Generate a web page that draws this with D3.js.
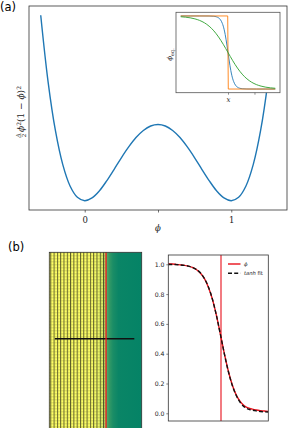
<!DOCTYPE html>
<html>
<head>
<meta charset="utf-8">
<script src="https://cdn.jsdelivr.net/npm/d3@7"></script>
<style>
body { margin: 0; background: #fff; }
svg { display: block; }
</style>
</head>
<body>
<div id="chart"></div>
<script>
// ======================================
// Data
// ======================================

// (a) double well: phi and energy A/2 phi^2 (1-phi)^2 (A = 2)
var wellPhi = [-0.30, -0.25, -0.20, -0.15, -0.10, -0.05, 0.00, 0.05, 0.10, 0.15, 0.20,
  0.25, 0.30, 0.35, 0.40, 0.45, 0.50, 0.55, 0.60, 0.65, 0.70, 0.75, 0.80, 0.85,
  0.90, 0.95, 1.00, 1.05, 1.10, 1.15, 1.20, 1.25, 1.30];
var wellEnergy = [0.1521, 0.0977, 0.0576, 0.0298, 0.0121, 0.0028, 0.0000, 0.0023, 0.0081,
  0.0163, 0.0256, 0.0352, 0.0441, 0.0518, 0.0576, 0.0613, 0.0625, 0.0613, 0.0576,
  0.0518, 0.0441, 0.0352, 0.0256, 0.0163, 0.0081, 0.0023, 0.0000, 0.0028, 0.0121,
  0.0298, 0.0576, 0.0977, 0.1521];
var wellTicks = [0, 0.5, 1];
var wellTickLabels = ["0", "", "1"];

// (a) inset: equilibrium profiles
var insetBlueX = [0, 0.1, 0.2, 0.3, 0.35, 0.4, 0.42, 0.44, 0.46, 0.48, 0.5, 0.52, 0.54,
  0.56, 0.58, 0.6, 0.65, 0.7, 0.8, 0.9, 1.0];
var insetBlue = [1, 1, 1, 0.9993, 0.9957, 0.9744, 0.9483, 0.8986, 0.8107, 0.6742, 0.5,
  0.3258, 0.1893, 0.1014, 0.0517, 0.0256, 0.0043, 0.0007, 0, 0, 0];
var insetOrangeX = [0, 0.497, 0.503, 1];
var insetOrange = [1, 1, 0, 0];
var insetGreenX = [0, 0.05, 0.1, 0.15, 0.2, 0.25, 0.3, 0.35, 0.4, 0.45, 0.5, 0.55, 0.6,
  0.65, 0.7, 0.75, 0.8, 0.85, 0.9, 0.95, 1.0];
var insetGreen = [0.9894, 0.9835, 0.9744, 0.9602, 0.9387, 0.9067, 0.8604, 0.7964, 0.7128,
  0.6117, 0.5, 0.3883, 0.2872, 0.2036, 0.1396, 0.0933, 0.0613, 0.0398, 0.0256,
  0.0165, 0.0106];
var insetTicks = [0.5, 0.78];
var insetTickLabels = ["x", ""];

// (b) profile along the black line, and tanh fit
var profileX = [0, 4, 8, 12, 16, 20, 24, 28, 32, 36, 40, 44, 48, 52, 56, 60, 64, 68, 72,
  76, 80, 84, 88, 92, 96, 100];
var profilePhi = [1.004, 1.002, 0.999, 0.996, 0.993, 0.988, 0.979, 0.965, 0.942, 0.905,
  0.848, 0.768, 0.660, 0.533, 0.402, 0.284, 0.190, 0.122, 0.078, 0.050, 0.036, 0.028,
  0.022, 0.018, 0.015, 0.013];
var profileFit = [0.999, 0.999, 0.998, 0.996, 0.993, 0.988, 0.979, 0.966, 0.943, 0.906,
  0.850, 0.769, 0.661, 0.533, 0.401, 0.282, 0.187, 0.119, 0.072, 0.043, 0.028, 0.021,
  0.016, 0.012, 0.010, 0.009];
var interfaceX = 52.7;
var profileTicks = [0, 0.2, 0.4, 0.6, 0.8, 1.0];
var legendLabels = ["ϕ", "tanh fit"];

// (b) image: phi across the slab (summer colormap)
var imageStopOffset = [0, 0.45, 0.52, 0.58, 0.61, 0.625, 0.65, 0.69, 0.75, 1];
var imageStopPhi = [1, 0.99, 0.95, 0.85, 0.7, 0.3, 0.2, 0.1, 0.04, 0.02];
var imageInterface = 0.614;

// ======================================
// Setup
// ======================================
var svg = d3.select("#chart").append("svg")
  .attr("width", 289)
  .attr("height", 428);
var defs = svg.append("defs");

var serif = "'DejaVu Serif', 'Liberation Serif', serif";
var sans = "'DejaVu Sans', sans-serif";

function pairs(xs, ys) {
  return xs.map((x, i) => [x, ys[i]]);
}

// ======================================
// Panel (a)
// ======================================
var aBox = {left: 29, top: 6, right: 287, bottom: 210};
var xA = d3.scaleLinear().domain([-0.38, 1.38]).range([aBox.left, aBox.right]);
var yA = d3.scaleLinear().domain([-0.0076, 0.1597]).range([aBox.bottom, aBox.top]);

svg.append("text")
  .attr("x", 0).attr("y", 10.5)
  .attr("font-family", sans).attr("font-size", 11.5)
  .text("(a)");

var gA = svg.append("g");

gA.append("path")
  .datum(pairs(wellPhi, wellEnergy))
  .attr("fill", "none")
  .attr("stroke", "#1f77b4")
  .attr("stroke-width", 1.4)
  .attr("d", d3.line().x(d => xA(d[0])).y(d => yA(d[1])).curve(d3.curveCatmullRom));

gA.append("rect")
  .attr("x", aBox.left).attr("y", aBox.top)
  .attr("width", aBox.right - aBox.left).attr("height", aBox.bottom - aBox.top)
  .attr("fill", "none").attr("stroke", "#333").attr("stroke-width", 0.8);

var axA = gA.append("g")
  .attr("transform", `translate(0, ${aBox.bottom})`)
  .call(d3.axisBottom(xA).tickValues(wellTicks)
    .tickFormat((d, i) => wellTickLabels[i]).tickSize(2.5).tickSizeOuter(0));
axA.select(".domain").remove();
axA.selectAll("line").attr("stroke", "#333").attr("stroke-width", 0.7);
axA.selectAll("text")
  .attr("y", 13).attr("dy", 0)
  .attr("font-family", serif).attr("font-size", 8.5).attr("fill", "#222");

gA.append("text")
  .attr("x", xA(0.5)).attr("y", 231)
  .attr("text-anchor", "middle")
  .attr("font-family", serif).attr("font-style", "italic").attr("font-size", 8.5)
  .attr("fill", "#222")
  .text("ϕ");

// y label  A/2 phi^2 (1 - phi)^2
var yl = gA.append("g").attr("transform", "translate(24, 112) rotate(-90)");
var ylText = yl.append("text")
  .attr("x", 3).attr("y", 0)
  .attr("text-anchor", "middle")
  .attr("font-family", serif).attr("font-size", 9).attr("fill", "#222");
ylText.append("tspan").attr("font-style", "italic").text("ϕ");
ylText.append("tspan").attr("font-size", 6).attr("dy", -3.5).text("2");
ylText.append("tspan").attr("dy", 3.5).text("(1 − ");
ylText.append("tspan").attr("font-style", "italic").text("ϕ");
ylText.append("tspan").text(")");
ylText.append("tspan").attr("font-size", 6).attr("dy", -3.5).text("2");
var ylLen = ylText.node().getComputedTextLength();
var fracX = 3 - ylLen / 2 - 3.5;
yl.append("text").attr("x", fracX).attr("y", -4.2).attr("text-anchor", "middle")
  .attr("font-family", serif).attr("font-style", "italic").attr("font-size", 5.5)
  .attr("fill", "#222").text("A");
yl.append("line").attr("x1", fracX - 2.3).attr("x2", fracX + 2.3)
  .attr("y1", -3.2).attr("y2", -3.2).attr("stroke", "#222").attr("stroke-width", 0.4);
yl.append("text").attr("x", fracX).attr("y", 1.8).attr("text-anchor", "middle")
  .attr("font-family", serif).attr("font-size", 5.5)
  .attr("fill", "#222").text("2");

// inset
var iBox = {left: 176, top: 12.3, right: 280, bottom: 92.7};
var xI = d3.scaleLinear().domain([-0.05, 1.05]).range([iBox.left, iBox.right]);
var yI = d3.scaleLinear().domain([-0.05, 1.05]).range([iBox.bottom, iBox.top]);

gA.append("rect")
  .attr("x", iBox.left).attr("y", iBox.top)
  .attr("width", iBox.right - iBox.left).attr("height", iBox.bottom - iBox.top)
  .attr("fill", "#fff");

defs.append("clipPath").attr("id", "clipInset").append("rect")
  .attr("x", iBox.left).attr("y", iBox.top)
  .attr("width", iBox.right - iBox.left).attr("height", iBox.bottom - iBox.top);

var insetLine = d3.line().x(d => xI(d[0])).y(d => yI(d[1]));
var insetSeries = [
  {pts: pairs(insetBlueX, insetBlue), color: "#1f77b4", curve: d3.curveMonotoneX},
  {pts: pairs(insetOrangeX, insetOrange), color: "#ff7f0e", curve: d3.curveLinear},
  {pts: pairs(insetGreenX, insetGreen), color: "#2ca02c", curve: d3.curveMonotoneX}
];
gA.append("g").attr("clip-path", "url(#clipInset)")
  .selectAll("path")
  .data(insetSeries)
  .enter()
  .append("path")
  .attr("fill", "none")
  .attr("stroke", d => d.color)
  .attr("stroke-width", 0.9)
  .attr("d", d => insetLine.curve(d.curve)(d.pts));

gA.append("rect")
  .attr("x", iBox.left).attr("y", iBox.top)
  .attr("width", iBox.right - iBox.left).attr("height", iBox.bottom - iBox.top)
  .attr("fill", "none").attr("stroke", "#555").attr("stroke-width", 0.8);

var axI = gA.append("g")
  .attr("transform", `translate(0, ${iBox.bottom})`)
  .call(d3.axisBottom(xI).tickValues(insetTicks)
    .tickFormat((d, i) => insetTickLabels[i]).tickSize(2).tickSizeOuter(0));
axI.select(".domain").remove();
axI.selectAll("line").attr("stroke", "#444").attr("stroke-width", 0.6);
axI.selectAll("text")
  .attr("y", 9).attr("dy", 0)
  .attr("font-family", serif).attr("font-style", "italic").attr("font-size", 7)
  .attr("fill", "#222");

var il = gA.append("text")
  .attr("transform", `translate(172, ${(iBox.top + iBox.bottom) / 2 + 2}) rotate(-90)`)
  .attr("text-anchor", "middle")
  .attr("font-family", serif).attr("font-size", 7).attr("fill", "#222");
il.append("tspan").attr("font-style", "italic").text("ϕ");
il.append("tspan").attr("font-size", 5).attr("dy", 1.5).text("eq.");

// ======================================
// Panel (b)
// ======================================
svg.append("text")
  .attr("x", 8).attr("y", 250.8)
  .attr("font-family", sans).attr("font-size", 11.5)
  .text("(b)");

// image of the slab
var imgBox = {left: 49.3, top: 252.3, right: 141.7, bottom: 432};
var summer = d3.interpolateRgb("#008066", "#ffff66");
var grad = defs.append("linearGradient").attr("id", "phiGrad")
  .attr("x1", 0).attr("x2", 1).attr("y1", 0).attr("y2", 0);
grad.selectAll("stop")
  .data(imageStopOffset)
  .enter()
  .append("stop")
  .attr("offset", d => d)
  .attr("stop-color", (d, i) => summer(imageStopPhi[i]));

var xImg = d3.scaleLinear().domain([0, 1]).range([imgBox.left, imgBox.right]);

var pat = defs.append("pattern").attr("id", "grid")
  .attr("patternUnits", "userSpaceOnUse")
  .attr("x", imgBox.left + 1).attr("y", imgBox.top)
  .attr("width", 3.3).attr("height", 3);
pat.append("rect").attr("x", 0).attr("y", 0).attr("width", 1.0).attr("height", 3)
  .attr("fill", "#1a1a10").attr("opacity", 0.7);
pat.append("rect").attr("x", 1.0).attr("y", 0).attr("width", 2.3).attr("height", 0.7)
  .attr("fill", "#1a1a10").attr("opacity", 0.25);

var gB = svg.append("g");
gB.append("rect")
  .attr("x", imgBox.left).attr("y", imgBox.top)
  .attr("width", imgBox.right - imgBox.left).attr("height", imgBox.bottom - imgBox.top)
  .attr("fill", "url(#phiGrad)");
gB.append("rect")
  .attr("x", imgBox.left).attr("y", imgBox.top)
  .attr("width", xImg(imageInterface) - imgBox.left - 0.6)
  .attr("height", imgBox.bottom - imgBox.top)
  .attr("fill", "url(#grid)");

gB.append("line")
  .attr("x1", xImg(0.06)).attr("x2", xImg(0.92))
  .attr("y1", 338.7).attr("y2", 338.7)
  .attr("stroke", "#111").attr("stroke-width", 1.4);
gB.append("line")
  .attr("x1", xImg(imageInterface)).attr("x2", xImg(imageInterface))
  .attr("y1", imgBox.top).attr("y2", imgBox.bottom)
  .attr("stroke", "#e8101a").attr("stroke-width", 1.3);
gB.append("rect")
  .attr("x", imgBox.left).attr("y", imgBox.top)
  .attr("width", imgBox.right - imgBox.left).attr("height", imgBox.bottom - imgBox.top)
  .attr("fill", "none").attr("stroke", "#333").attr("stroke-width", 0.8);

// profile plot
var pBox = {left: 168.3, top: 255, right: 268.3, bottom: 421};
var xP = d3.scaleLinear().domain([0, 100]).range([pBox.left, pBox.right]);
var yP = d3.scaleLinear().domain([0, 1]).range([413.3, 264.3]);

defs.append("clipPath").attr("id", "clipProfile").append("rect")
  .attr("x", pBox.left).attr("y", pBox.top)
  .attr("width", pBox.right - pBox.left).attr("height", pBox.bottom - pBox.top);

var profLine = d3.line().x(d => xP(d[0])).y(d => yP(d[1])).curve(d3.curveMonotoneX);
var gP = gB.append("g").attr("clip-path", "url(#clipProfile)");

gP.append("line")
  .attr("x1", xP(interfaceX)).attr("x2", xP(interfaceX))
  .attr("y1", pBox.top).attr("y2", pBox.bottom)
  .attr("stroke", "#e8101a").attr("stroke-width", 1.1);
gP.append("path")
  .datum(pairs(profileX, profilePhi))
  .attr("fill", "none").attr("stroke", "#e8101a").attr("stroke-width", 1.4)
  .attr("d", profLine);
gP.append("path")
  .datum(pairs(profileX, profileFit))
  .attr("fill", "none").attr("stroke", "#111").attr("stroke-width", 1.4)
  .attr("stroke-dasharray", "4,2.2")
  .attr("d", profLine);

gB.append("rect")
  .attr("x", pBox.left).attr("y", pBox.top)
  .attr("width", pBox.right - pBox.left).attr("height", pBox.bottom - pBox.top)
  .attr("fill", "none").attr("stroke", "#333").attr("stroke-width", 0.8);

var axP = gB.append("g")
  .attr("transform", `translate(${pBox.left}, 0)`)
  .call(d3.axisLeft(yP).tickValues(profileTicks).tickFormat(d3.format(".1f"))
    .tickSize(2).tickPadding(1.8).tickSizeOuter(0));
axP.select(".domain").remove();
axP.selectAll("line").attr("stroke", "#333").attr("stroke-width", 0.6);
axP.selectAll("text")
  .attr("font-family", sans).attr("font-size", 6.2).attr("fill", "#222");

// legend
var legend = gB.append("g").attr("transform", "translate(228, 264)");
var legendStyles = [
  {color: "#e8101a", dash: null},
  {color: "#111", dash: "4,2.2"}
];
legendLabels.forEach((label, i) => {
  var row = legend.append("g").attr("transform", `translate(0, ${i * 9.3})`);
  row.append("line")
    .attr("x1", 0).attr("x2", 12.5).attr("y1", 0).attr("y2", 0)
    .attr("stroke", legendStyles[i].color).attr("stroke-width", 1.4)
    .attr("stroke-dasharray", legendStyles[i].dash);
  var t = row.append("text")
    .attr("x", 16).attr("y", 1.8)
    .attr("font-family", sans).attr("font-size", 5.2).attr("fill", "#222");
  if (i === 0) {
    t.attr("font-style", "italic").attr("font-family", serif).text(label);
  } else {
    t.append("tspan").attr("font-style", "italic").text("tanh");
    t.append("tspan").text(" fit");
  }
});
</script>
</body>
</html>
